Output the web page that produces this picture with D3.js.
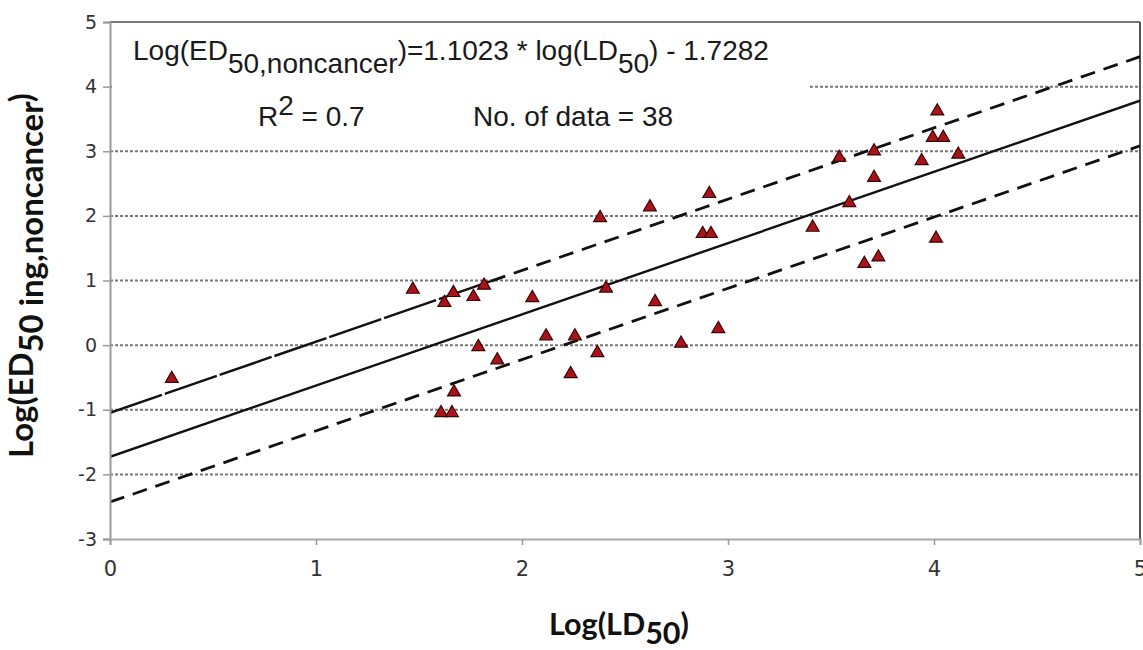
<!DOCTYPE html>
<html>
<head>
<meta charset="utf-8">
<script src="https://cdn.jsdelivr.net/npm/d3@7"></script>
<style>
  html, body { margin: 0; padding: 0; background: #fff; }
  svg { display: block; }
</style>
</head>
<body>
<svg id="chart" width="1143" height="650"></svg>
<script>
// ---------------- data ----------------
const logLD50 = [0.30, 1.47, 1.607, 1.66, 1.623, 1.667, 1.764, 1.816, 1.67, 1.788,
                 1.88, 2.05, 2.117, 2.236, 2.257, 2.366, 2.379, 2.408, 2.621, 2.646,
                 2.772, 2.877, 2.909, 2.917, 2.953, 3.411, 3.54, 3.589, 3.662, 3.709,
                 3.709, 3.73, 3.94, 3.994, 4.01, 4.016, 4.045, 4.118, 5.03];
const logED50 = [-0.52, 0.86, -1.05, -1.05, 0.655, 0.81, 0.748, 0.924, -0.728, -0.026,
                 -0.232, 0.732, 0.139, -0.444, 0.139, -0.119, 1.97, 0.878, 2.136, 0.67,
                 0.026, 1.723, 2.342, 1.723, 0.252, 1.82, 2.90, 2.20, 1.26, 3.00,
                 2.59, 1.36, 2.85, 3.21, 1.65, 3.62, 3.21, 2.95, 4.45];
const xTicks = [0, 1, 2, 3, 4, 5];
const yTicks = [-3, -2, -1, 0, 1, 2, 3, 4, 5];
const gridValues = [-2, -1, 0, 1, 2, 3, 4];
const slope = 1.1023, intercept = -1.7282;
const upperOffset = 0.68, lowerOffset = -0.70;
const upperSplitX = 1.85;   // where the upper dashed line changes its dash pattern

// ---------------- layout ----------------
const svg = d3.select("#chart");
const L = 110, R = 1140, T = 22, B = 539;
const x = d3.scaleLinear().domain([0, 5]).range([L, R]);
const y = d3.scaleLinear().domain([-3, 5]).range([B, T]);

svg.append("defs").append("clipPath").attr("id", "plotclip")
  .append("rect").attr("x", L).attr("y", T).attr("width", R - L).attr("height", B - T);

// gridlines
svg.append("g").selectAll("line").data(gridValues).join("line")
  .attr("x1", L).attr("x2", R)
  .attr("y1", d => y(d)).attr("y2", d => y(d))
  .attr("stroke", "#777").attr("stroke-width", 2).attr("stroke-dasharray", "3,2");

// top & right border
svg.append("line").attr("x1", L).attr("x2", R).attr("y1", y(5)).attr("y2", y(5))
  .attr("stroke", "#777").attr("stroke-width", 2);
svg.append("line").attr("x1", R).attr("x2", R).attr("y1", T).attr("y2", B)
  .attr("stroke", "#555").attr("stroke-width", 2);

// text box (white background of the equation box)
svg.append("rect").attr("x", L + 2).attr("y", T + 2).attr("width", 808 - L - 2).attr("height", 110)
  .attr("fill", "#fff");

const fontA = "'Liberation Sans', Arial, sans-serif";
const eq = svg.append("text").attr("x", 133).attr("y", 60)
  .attr("font-family", fontA).attr("font-size", 28).attr("fill", "#1a1a1a");
eq.append("tspan").text("Log(ED");
eq.append("tspan").attr("dy", 13).text("50,noncancer");
eq.append("tspan").attr("dy", -13).text(")=1.1023 * log(LD");
eq.append("tspan").attr("dy", 13).text("50");
eq.append("tspan").attr("dy", -13).text(") - 1.7282");

const r2 = svg.append("text").attr("x", 258).attr("y", 126)
  .attr("font-family", fontA).attr("font-size", 28).attr("fill", "#1a1a1a");
r2.append("tspan").text("R");
r2.append("tspan").attr("dy", -11).text("2");
r2.append("tspan").attr("dy", 11).text(" = 0.7");

svg.append("text").attr("x", 473).attr("y", 126)
  .attr("font-family", fontA).attr("font-size", 28).attr("fill", "#1a1a1a")
  .text("No. of data = " + logLD50.slice(0, 38).length);

// regression lines
const plot = svg.append("g").attr("clip-path", "url(#plotclip)");
const line = d3.line().x(d => x(d[0])).y(d => y(d[1]));
const fit = (xv, off) => [xv, slope * xv + intercept + off];

plot.append("path").attr("d", line([fit(0, 0), fit(5, 0)]))
  .attr("fill", "none").attr("stroke", "#111").attr("stroke-width", 2.4);
plot.append("path").attr("d", line([fit(0, upperOffset), fit(upperSplitX, upperOffset)]))
  .attr("fill", "none").attr("stroke", "#111").attr("stroke-width", 2.4)
  .attr("stroke-dasharray", "55,3");
plot.append("path").attr("d", line([fit(upperSplitX, upperOffset), fit(5, upperOffset)]))
  .attr("fill", "none").attr("stroke", "#111").attr("stroke-width", 2.8)
  .attr("stroke-dasharray", "15,9");
plot.append("path").attr("d", line([fit(0, lowerOffset), fit(5, lowerOffset)]))
  .attr("fill", "none").attr("stroke", "#111").attr("stroke-width", 2.8)
  .attr("stroke-dasharray", "15,9");

// points
const tri = d3.symbol().type(d3.symbolTriangle).size(72);
plot.append("g").selectAll("path").data(logLD50.map((v, i) => [v, logED50[i]])).join("path")
  .attr("d", tri)
  .attr("transform", d => `translate(${x(d[0])},${y(d[1])})`)
  .attr("fill", "#a8141a").attr("stroke", "#3a0505").attr("stroke-width", 1.2);

// axes
const tickFont = "'DejaVu Sans', Verdana, sans-serif";
const yAxis = svg.append("g").attr("transform", `translate(${L},0)`)
  .call(d3.axisLeft(y).tickValues(yTicks).tickSize(7).tickPadding(6).tickFormat(d3.format("d")));
yAxis.select(".domain").attr("stroke", "#9a9a9a").attr("stroke-width", 2);
yAxis.selectAll(".tick line").attr("stroke", "#9a9a9a").attr("stroke-width", 1.5);
yAxis.selectAll(".tick text")
  .style("font-family", tickFont).style("font-size", "19px")
  .attr("fill", "#333").text(d => d < 0 ? "-" + Math.abs(d) : d);

const xAxis = svg.append("g").attr("transform", `translate(0,${B})`)
  .call(d3.axisBottom(x).tickValues(xTicks).tickSize(6).tickPadding(16).tickFormat(d3.format("d")));
xAxis.select(".domain").attr("stroke", "#a8a8a8").attr("stroke-width", 2);
xAxis.selectAll(".tick line").attr("stroke", "#9a9a9a").attr("stroke-width", 1.5);
xAxis.selectAll(".tick text")
  .style("font-family", tickFont).style("font-size", "21px")
  .attr("fill", "#333");

// axis titles
const titleFont = "Lato, 'Open Sans', sans-serif";
const yTitle = svg.append("text")
  .attr("transform", "translate(33,458) rotate(-90)")
  .attr("font-family", titleFont).attr("font-weight", "bold").attr("font-size", 30).attr("fill", "#111");
yTitle.append("tspan").text("Log(ED");
yTitle.append("tspan").attr("dy", 10).text("50 ing,noncancer");
yTitle.append("tspan").attr("dy", -10).text(")");
// fit title length to the reference extent
let yl = yTitle.node().getComputedTextLength();
yTitle.attr("font-size", 30 * 365 / yl);

const xTitle = svg.append("text").attr("x", 549).attr("y", 635)
  .attr("font-family", titleFont).attr("font-weight", "bold").attr("font-size", 30).attr("fill", "#111");
xTitle.append("tspan").text("Log(LD");
xTitle.append("tspan").attr("dy", 9).text("50");
xTitle.append("tspan").attr("dy", -9).text(")");
let xl = xTitle.node().getComputedTextLength();
xTitle.attr("font-size", 30 * 140 / xl);
</script>
</body>
</html>
